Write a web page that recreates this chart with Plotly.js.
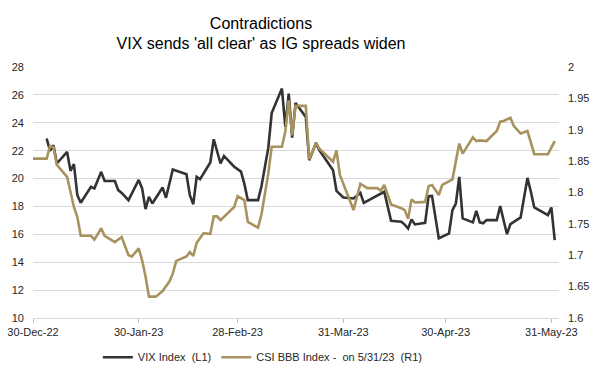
<!DOCTYPE html>
<html>
<head>
<meta charset="utf-8">
<script src="https://cdn.plot.ly/plotly-3.0.1.min.js"></script>
<style>
  html, body { margin: 0; padding: 0; background: #ffffff; }
  #chart { width: 600px; height: 376px; }
</style>
</head>
<body>
<div id="chart"></div>
<script>
// ---- Data ----
const vixDates = [
  '2023-01-03','2023-01-04','2023-01-05','2023-01-06','2023-01-09','2023-01-10','2023-01-11','2023-01-12','2023-01-13',
  '2023-01-16','2023-01-17','2023-01-19','2023-01-20','2023-01-23','2023-01-24','2023-01-25','2023-01-27',
  '2023-01-30','2023-01-31','2023-02-01','2023-02-02','2023-02-03','2023-02-06','2023-02-07','2023-02-09',
  '2023-02-13','2023-02-14','2023-02-15','2023-02-16','2023-02-17','2023-02-20','2023-02-21','2023-02-23','2023-02-24',
  '2023-02-27','2023-02-28','2023-03-01','2023-03-02','2023-03-03','2023-03-06','2023-03-07','2023-03-09','2023-03-10',
  '2023-03-13','2023-03-14','2023-03-15','2023-03-16','2023-03-17','2023-03-20','2023-03-21','2023-03-23','2023-03-24',
  '2023-03-28','2023-03-29','2023-03-31','2023-04-03','2023-04-05','2023-04-06','2023-04-10','2023-04-12',
  '2023-04-14','2023-04-17','2023-04-18','2023-04-19','2023-04-20','2023-04-21','2023-04-24','2023-04-25','2023-04-26',
  '2023-04-28','2023-05-01','2023-05-02','2023-05-03','2023-05-04','2023-05-05','2023-05-08','2023-05-09','2023-05-10',
  '2023-05-11','2023-05-12','2023-05-15','2023-05-16','2023-05-18','2023-05-19','2023-05-22','2023-05-24','2023-05-25',
  '2023-05-26','2023-05-30','2023-05-31','2023-06-01'
];
const vixValues = [
  22.87, 21.98, 22.39, 21.08, 21.91, 20.55, 21.03, 18.81, 18.26,
  19.40, 19.29, 20.48, 19.83, 19.83, 19.17, 18.97, 18.45,
  19.90, 19.29, 17.81, 18.69, 18.21, 19.36, 18.62, 20.65,
  20.31, 18.81, 18.16, 20.12, 19.95, 21.15, 22.82, 21.08, 21.62,
  20.85, 20.65, 20.50, 19.60, 18.45, 18.45, 19.45, 22.20, 24.70,
  26.45, 23.70, 26.09, 22.94, 25.42, 24.42, 21.32, 22.56, 22.03,
  20.60, 19.12, 18.64, 18.57, 18.97, 18.26, 18.81, 19.05,
  16.97, 16.90, 16.70, 16.42, 17.07, 16.71, 16.83, 18.74, 18.76,
  15.71, 16.07, 17.74, 18.21, 20.12, 17.14, 16.86, 17.69, 16.86,
  16.79, 17.02, 17.02, 18.02, 16.01, 16.73, 17.21, 20.05, 19.05,
  17.93, 17.38, 17.93, 15.59
];

const csiDates = [
  '2022-12-30','2023-01-03','2023-01-04','2023-01-05','2023-01-06','2023-01-09','2023-01-11','2023-01-12','2023-01-13',
  '2023-01-16','2023-01-17','2023-01-19','2023-01-20','2023-01-23','2023-01-25','2023-01-27','2023-01-28',
  '2023-01-30','2023-01-31','2023-02-01','2023-02-02','2023-02-04','2023-02-06','2023-02-08','2023-02-09','2023-02-10',
  '2023-02-13','2023-02-14','2023-02-15','2023-02-16','2023-02-18','2023-02-20','2023-02-21','2023-02-22','2023-02-23',
  '2023-02-27','2023-02-28','2023-03-02','2023-03-03','2023-03-06','2023-03-07','2023-03-08','2023-03-09','2023-03-10',
  '2023-03-13','2023-03-14','2023-03-15','2023-03-16','2023-03-17','2023-03-20','2023-03-21','2023-03-23','2023-03-24',
  '2023-03-28','2023-03-29','2023-03-30','2023-04-01','2023-04-02','2023-04-03','2023-04-05','2023-04-07','2023-04-10',
  '2023-04-11','2023-04-12','2023-04-14','2023-04-17','2023-04-18','2023-04-19','2023-04-20','2023-04-21','2023-04-24',
  '2023-04-25','2023-04-26','2023-04-28','2023-04-29','2023-05-02','2023-05-03','2023-05-04','2023-05-05','2023-05-08',
  '2023-05-09','2023-05-10','2023-05-12','2023-05-15','2023-05-16','2023-05-17','2023-05-19','2023-05-20','2023-05-22',
  '2023-05-24','2023-05-26','2023-05-30','2023-06-01'
];
const csiValues = [
  1.854, 1.854, 1.874, 1.872, 1.844, 1.825, 1.777, 1.761, 1.731,
  1.731, 1.725, 1.743, 1.731, 1.721, 1.729, 1.700, 1.698,
  1.711, 1.692, 1.666, 1.634, 1.634, 1.643, 1.658, 1.671, 1.691,
  1.698, 1.705, 1.699, 1.720, 1.735, 1.734, 1.762, 1.762, 1.756,
  1.777, 1.794, 1.788, 1.753, 1.744, 1.765, 1.800, 1.830, 1.873,
  1.873, 1.897, 1.947, 1.891, 1.938, 1.938, 1.853, 1.879, 1.870,
  1.849, 1.867, 1.828, 1.801, 1.785, 1.772, 1.814, 1.807, 1.807,
  1.803, 1.812, 1.781, 1.775, 1.772, 1.758, 1.789, 1.784, 1.785,
  1.810, 1.812, 1.796, 1.812, 1.821, 1.848, 1.878, 1.862, 1.888,
  1.882, 1.883, 1.882, 1.898, 1.913, 1.914, 1.919, 1.906, 1.894,
  1.898, 1.861, 1.861, 1.882
];

const xTickVals = ['2022-12-30','2023-01-30','2023-02-28','2023-03-31','2023-04-30','2023-05-31'];
const xTickText = ['30-Dec-22','30-Jan-23','28-Feb-23','31-Mar-23','30-Apr-23','31-May-23'];
const leftTicks = [10, 12, 14, 16, 18, 20, 22, 24, 26, 28];
const rightTickVals = [1.6, 1.65, 1.7, 1.75, 1.8, 1.85, 1.9, 1.95, 2];
const rightTickText = ['1.6', '1.65', '1.7', '1.75', '1.8', '1.85', '1.9', '1.95', '2'];
const seriesNames = ['VIX Index&nbsp; (L1)', 'CSI BBB Index -&nbsp; on 5/31/23&nbsp; (R1)'];
const titleText = "Contradictions<br>VIX sends 'all clear' as IG spreads widen";

const FONT = 'Arial, "Liberation Sans", sans-serif';

const traces = [
  {
    x: vixDates, y: vixValues, name: seriesNames[0], type: 'scatter', mode: 'lines',
    line: { color: '#333333', width: 2.6 }, yaxis: 'y'
  },
  {
    x: csiDates, y: csiValues, name: seriesNames[1], type: 'scatter', mode: 'lines',
    line: { color: '#a8935e', width: 2.6 }, yaxis: 'y2'
  }
];

const layout = {
  width: 600, height: 376,
  paper_bgcolor: '#ffffff', plot_bgcolor: '#ffffff',
  margin: { l: 33, r: 41, t: 67, b: 58 },
  font: { family: FONT, size: 11, color: '#262626' },
  title: {
    text: titleText,
    font: { family: FONT, size: 16, color: '#000000' },
    x: 0.435, xref: 'container', xanchor: 'center',
    y: 0.924, yref: 'container', yanchor: 'top'
  },
  showlegend: true,
  legend: {
    orientation: 'h', x: 0.437, xanchor: 'center',
    y: 0.05, yref: 'container', yanchor: 'middle',
    font: { family: FONT, size: 11, color: '#262626' },
    bgcolor: 'rgba(0,0,0,0)'
  },
  xaxis: {
    type: 'date', automargin: false,
    range: ['2022-12-30', '2023-06-02 06:00'],
    tickvals: xTickVals, ticktext: xTickText,
    ticks: 'outside', ticklen: 4, tickcolor: '#bfbfbf', tickwidth: 1,
    ticklabelstandoff: 0,
    showline: true, linecolor: '#d9d9d9', linewidth: 1,
    showgrid: false, zeroline: false,
    tickfont: { family: FONT, size: 11, color: '#262626' }
  },
  yaxis: {
    range: [10, 28], tickvals: leftTicks, automargin: false,
    showgrid: true, gridcolor: '#d9d9d9', gridwidth: 1,
    zeroline: false, showline: false, ticks: '',
    ticklabelstandoff: 8,
    tickfont: { family: FONT, size: 11, color: '#262626' }
  },
  yaxis2: {
    overlaying: 'y', side: 'right', automargin: false,
    range: [1.6, 2], tickvals: rightTickVals, ticktext: rightTickText,
    showgrid: false, zeroline: false, showline: false, ticks: '',
    ticklabelstandoff: 8,
    tickfont: { family: FONT, size: 11, color: '#262626' }
  }
};

Plotly.newPlot('chart', traces, layout, { displayModeBar: false, staticPlot: true });
</script>
</body>
</html>
